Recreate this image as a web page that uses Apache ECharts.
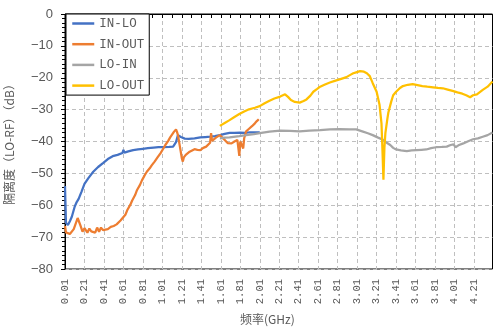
<!DOCTYPE html>
<html>
<head>
<meta charset="utf-8">
<script src="https://cdn.jsdelivr.net/npm/echarts@6/dist/echarts.min.js"></script>
<style>html,body{margin:0;padding:0;background:#fff}#c{width:496px;height:329px}</style>
</head>
<body>
<div id="c"></div>
<script>
// Frequency sweep categories (GHz), 0.01 .. 4.40
var freqStart = 0.01, freqEnd = 4.40;
var categories = [];
for (var k = Math.round(freqStart * 100); k <= Math.round(freqEnd * 100); k++) categories.push((k / 100).toFixed(2));

var seriesNames = ['IN-LO', 'IN-OUT', 'LO-IN', 'LO-OUT'];
var yTicks = [0, -10, -20, -30, -40, -50, -60, -70, -80];

// [frequency GHz, isolation dB]
var IN_LO = [[0.01,-54],[0.02,-65.5],[0.04,-66.2],[0.06,-65],[0.08,-63.6],[0.11,-60.4],[0.13,-59],[0.15,-58],[0.18,-55.7],[0.21,-53.3],[0.25,-51.5],[0.30,-49.5],[0.35,-48],[0.40,-46.8],[0.45,-45.5],[0.50,-44.6],[0.55,-44.2],[0.60,-43.6],[0.61,-42.6],[0.62,-43.5],[0.66,-43.1],[0.71,-42.7],[0.76,-42.5],[0.81,-42.3],[0.86,-42.1],[0.92,-41.9],[0.97,-41.8],[1.02,-41.8],[1.08,-41.7],[1.12,-41.6],[1.14,-41.0],[1.15,-40.2],[1.17,-38.0],[1.20,-38.6],[1.24,-39.1],[1.28,-39.2],[1.34,-39.0],[1.40,-38.7],[1.45,-38.6],[1.50,-38.5],[1.55,-38.3],[1.60,-38.0],[1.65,-37.6],[1.70,-37.3],[1.75,-37.3],[1.81,-37.2],[1.86,-37.3],[1.91,-37.1],[1.96,-37.1],[2.01,-37.1]];
var IN_OUT = [[0.01,-66.5],[0.02,-68.5],[0.04,-68.8],[0.06,-69],[0.08,-68.5],[0.10,-67.5],[0.12,-67],[0.14,-64],[0.15,-63.4],[0.16,-64.5],[0.17,-66.5],[0.19,-68.3],[0.21,-67.2],[0.23,-67.8],[0.24,-68.6],[0.26,-67.3],[0.28,-68.2],[0.30,-67.6],[0.32,-68.6],[0.34,-67],[0.36,-68.3],[0.38,-67],[0.40,-67.8],[0.42,-67.3],[0.45,-67.5],[0.48,-66.8],[0.51,-66.5],[0.54,-66],[0.56,-65.5],[0.58,-64.8],[0.60,-64.2],[0.63,-63],[0.65,-61.5],[0.68,-59.9],[0.70,-58.5],[0.73,-56.8],[0.75,-55.2],[0.78,-53.6],[0.80,-52.2],[0.83,-50.5],[0.85,-49.5],[0.88,-48.4],[0.90,-47.5],[0.93,-46.3],[0.96,-45],[0.99,-43.7],[1.02,-42.2],[1.04,-41.1],[1.07,-39.8],[1.09,-38.7],[1.13,-36.9],[1.15,-36.2],[1.16,-37],[1.17,-38],[1.19,-41.6],[1.21,-45.3],[1.22,-46.3],[1.23,-45],[1.25,-44.2],[1.27,-43.6],[1.29,-43.2],[1.31,-42.8],[1.34,-42.4],[1.37,-42.6],[1.40,-42.7],[1.43,-42],[1.46,-41.6],[1.48,-41],[1.50,-40.4],[1.51,-37.4],[1.52,-39.8],[1.54,-39.5],[1.56,-38.8],[1.58,-38.3],[1.60,-38],[1.62,-38.5],[1.65,-39.5],[1.68,-40.5],[1.70,-41.1],[1.72,-40.6],[1.75,-40],[1.78,-39.5],[1.79,-39.5],[1.80,-44.5],[1.81,-40],[1.83,-40.5],[1.84,-42.2],[1.85,-39],[1.87,-36.8],[1.90,-36],[1.93,-35.2],[1.96,-34.3],[1.98,-33.6],[2.00,-33.0]];
var LO_IN = [[1.60,-39],[1.65,-38.8],[1.70,-38.7],[1.80,-38.3],[1.87,-38],[1.95,-37.7],[2.01,-37.4],[2.11,-36.9],[2.22,-36.6],[2.32,-36.7],[2.42,-36.8],[2.52,-36.6],[2.63,-36.4],[2.73,-36.2],[2.83,-36.1],[2.93,-36.2],[3.00,-36.2],[3.07,-36.9],[3.12,-37.4],[3.17,-38],[3.22,-38.7],[3.28,-39.5],[3.31,-40.3],[3.35,-41.1],[3.38,-42],[3.41,-42.5],[3.46,-42.8],[3.52,-43],[3.57,-42.8],[3.62,-42.7],[3.67,-42.6],[3.72,-42.5],[3.77,-42.1],[3.82,-41.8],[3.88,-41.7],[3.93,-41.6],[3.97,-41.1],[4.00,-40.9],[4.02,-41.8],[4.05,-41.2],[4.10,-40.6],[4.15,-39.9],[4.20,-39.3],[4.25,-39],[4.30,-38.5],[4.35,-38],[4.40,-37.2]];
var LO_OUT = [[1.60,-35.1],[1.65,-34.2],[1.70,-33.3],[1.75,-32.3],[1.80,-31.4],[1.85,-30.6],[1.90,-29.9],[1.96,-29.4],[2.01,-28.9],[2.06,-28],[2.11,-27.2],[2.16,-26.5],[2.22,-25.9],[2.27,-25.2],[2.30,-26],[2.33,-27],[2.37,-27.6],[2.42,-27.8],[2.46,-27.3],[2.49,-26.8],[2.53,-25.6],[2.56,-24.4],[2.60,-23.5],[2.63,-22.8],[2.68,-22.1],[2.73,-21.5],[2.78,-21],[2.83,-20.5],[2.87,-20.1],[2.90,-19.8],[2.94,-19.1],[2.97,-18.6],[3.00,-18.3],[3.04,-17.9],[3.08,-18.1],[3.11,-18.6],[3.14,-19.5],[3.17,-21.7],[3.21,-24.4],[3.24,-28.5],[3.26,-34.3],[3.27,-42.7],[3.28,-52],[3.29,-42],[3.30,-37.4],[3.32,-33],[3.33,-31],[3.36,-27.5],[3.38,-25.5],[3.41,-24.4],[3.45,-23.2],[3.48,-22.6],[3.53,-22.2],[3.58,-22.0],[3.63,-22.3],[3.68,-22.6],[3.73,-22.8],[3.79,-23.0],[3.84,-23.2],[3.89,-23.3],[3.94,-23.7],[3.99,-24.1],[4.04,-24.6],[4.09,-25],[4.13,-25.5],[4.17,-26.1],[4.20,-25.5],[4.24,-25.2],[4.27,-24.5],[4.30,-23.8],[4.35,-22.8],[4.40,-21.2]];

var colors = ['#4472C4', '#ED7D31', '#A5A5A5', '#FFC000'];
var seriesData = [IN_LO, IN_OUT, LO_IN, LO_OUT];

function toPairs(arr) { return arr.map(function (p) { return [p[0].toFixed(2), p[1]]; }); }

var chart = echarts.init(document.getElementById('c'), null, { renderer: 'canvas' });
var labelColor = '#595959';
chart.setOption({
  animation: false,
  backgroundColor: '#fff',
  color: colors,
  grid: { left: 65, right: 3.5, top: 14, bottom: 60, show: true, borderColor: '#000', borderWidth: 1, backgroundColor: 'transparent', containLabel: false, outerBoundsMode: 'none' },
  legend: {
    orient: 'vertical', left: 66, top: 14,
    padding: [3, 5, 3, 5], itemWidth: 22, itemHeight: 14, itemGap: 7.7,
    borderColor: '#000', borderWidth: 1, backgroundColor: '#fff',
    itemStyle: { opacity: 0, color: 'transparent', borderWidth: 0 },
    lineStyle: { width: 2.5 },
    textStyle: { fontFamily: 'Liberation Mono', fontSize: 12.5, color: labelColor },
    data: seriesNames
  },
  xAxis: {
    type: 'category', data: categories, boundaryGap: false,
    axisLine: { lineStyle: { color: '#000', width: 1 } },
    axisTick: { show: true, interval: 9, length: 4, lineStyle: { color: '#000' } },
    axisLabel: { interval: 19, rotate: 90, margin: 10, color: labelColor, fontFamily: 'Liberation Mono', fontSize: 10.5 },
    splitLine: { show: true, interval: 19, lineStyle: { color: '#BFBFBF', type: [4, 3], width: 1 } }
  },
  yAxis: {
    type: 'value', min: yTicks[yTicks.length - 1], max: yTicks[0], interval: 10,
    name: '隔离度（LO-RF）（dB）', nameLocation: 'middle', nameRotate: 90, nameGap: 50,
    nameTextStyle: { color: labelColor, fontFamily: 'Noto Sans CJK SC', fontSize: 12 },
    axisLine: { show: true, lineStyle: { color: '#000', width: 1 } },
    axisTick: { show: true, length: 4, lineStyle: { color: '#000' } },
    minorTick: { show: true, splitNumber: 7, length: 3, lineStyle: { color: '#000' } },
    axisLabel: { margin: 12, color: labelColor, fontFamily: 'Liberation Sans', fontSize: 13, formatter: function (v) { return v < 0 ? '\u2212' + (-v) : String(v); } },
    splitLine: { show: true, lineStyle: { color: '#BFBFBF', type: [4, 3], width: 1 } }
  },
  graphic: [{
    type: 'text', left: 240, top: 313,
    style: { text: '频率(GHz)', fill: labelColor, font: '12px "Noto Sans CJK SC"' }
  }],
  series: seriesNames.map(function (n, i) {
    return {
      name: n, type: 'line', symbol: 'none', showSymbol: false,
      lineStyle: { width: 2.25, color: colors[i] }, itemStyle: { color: colors[i] },
      data: toPairs(seriesData[i])
    };
  })
});
</script>
</body>
</html>
